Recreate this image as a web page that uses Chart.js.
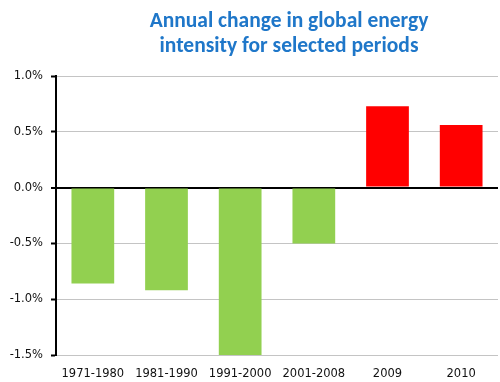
<!DOCTYPE html>
<html>
<head>
<meta charset="utf-8">
<script src="https://cdn.jsdelivr.net/npm/chart.js@4.4.0/dist/chart.umd.min.js"></script>
<style>
html,body{margin:0;padding:0;background:#fff;}
#wrap{width:500px;height:382px;position:relative;}
</style>
</head>
<body>
<div id="wrap"><canvas id="c" width="500" height="382"></canvas></div>
<script>
const categories = ["1971-1980", "1981-1990", "1991-2000", "2001-2008", "2009", "2010"];
const values = [-0.86, -0.92, -1.5, -0.50, 0.73, 0.56];
const barColors = ["#92D050", "#92D050", "#92D050", "#92D050", "#FF0000", "#FF0000"];
const titleLines = ["Annual change in global energy", "intensity for selected periods"];
const yTicks = [1.0, 0.5, 0.0, -0.5, -1.0, -1.5];

const titlePlugin = {
  id: 'customTitle',
  afterDraw(chart) {
    const ctx = chart.ctx;
    ctx.save();
    ctx.fillStyle = '#1F77C9';
    ctx.font = 'bold 21.5px Carlito, Lato, "Open Sans", sans-serif';
    ctx.textAlign = 'center';
    ctx.textBaseline = 'alphabetic';
    ctx.fillText(titleLines[0], 289, 27);
    ctx.fillText(titleLines[1], 289, 52);
    ctx.restore();
  }
};

new Chart(document.getElementById('c'), {
  type: 'bar',
  data: {
    labels: categories,
    datasets: [{
      data: values,
      backgroundColor: barColors,
      borderWidth: 0,
      barPercentage: 0.58,
      categoryPercentage: 1.0
    }]
  },
  options: {
    responsive: false,
    animation: false,
    devicePixelRatio: 1,
    layout: { padding: { top: 76, right: 2, left: 0, bottom: 0 } },
    plugins: { legend: { display: false }, title: { display: false }, tooltip: { enabled: false } },
    scales: {
      x: {
        grid: { display: false },
        border: { display: false },
        ticks: { color: '#111', font: { family: 'DejaVu Sans', size: 11.5 }, padding: 4, maxRotation: 0 },
        afterFit(s) { s.height = 27; }
      },
      y: {
        min: -1.5, max: 1.0,
        afterBuildTicks(s) { s.ticks = yTicks.map(v => ({ value: v })); },
        grid: {
          color: ctx => (ctx.tick && ctx.tick.value === 0) ? '#000' : '#C4C4C4',
          lineWidth: ctx => (ctx.tick && ctx.tick.value === 0) ? 2 : 1,
          tickColor: '#000',
          tickLength: 5,
          tickWidth: 2
        },
        border: { display: true, color: '#000', width: 2 },
        ticks: {
          color: '#111',
          font: { family: 'DejaVu Sans', size: 11.5 },
          padding: 8,
          callback: v => v.toFixed(1) + '%'
        },
        afterFit(s) { s.width = 56; }
      }
    }
  },
  plugins: [titlePlugin]
});
</script>
</body>
</html>
